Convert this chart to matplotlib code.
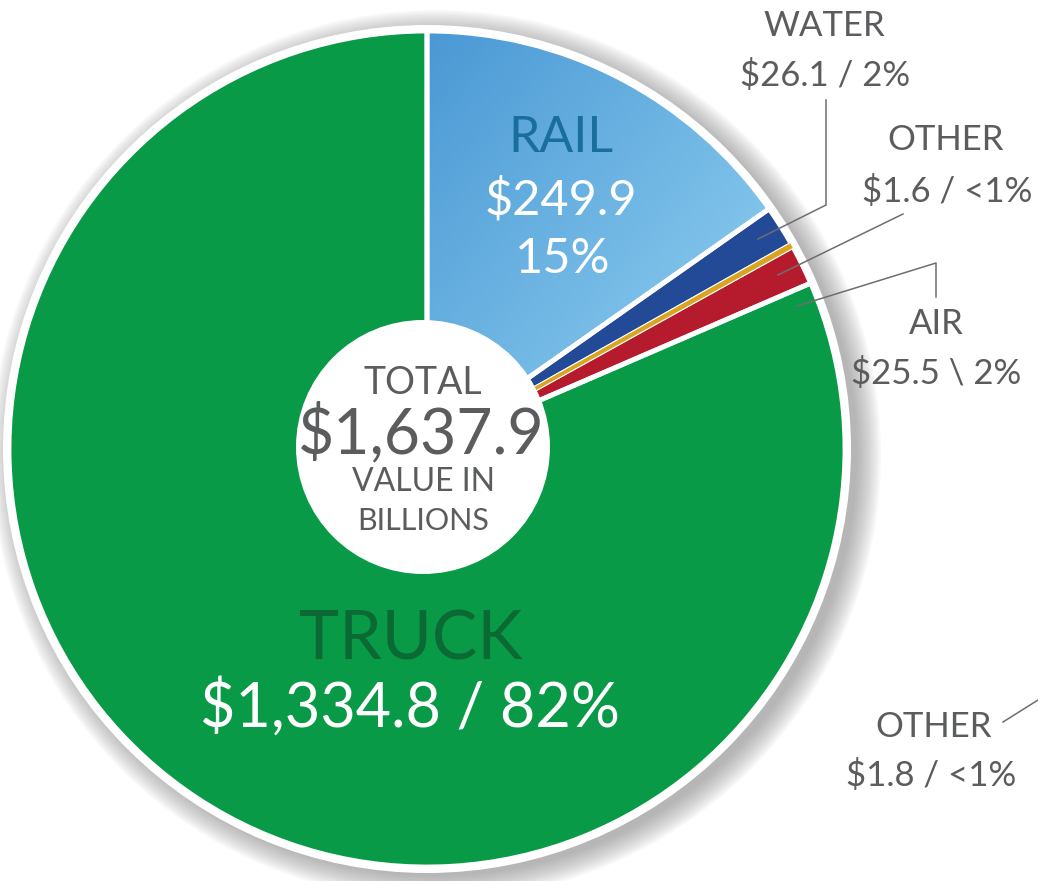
import matplotlib
matplotlib.use('Agg')
import matplotlib.pyplot as plt
import numpy as np
from matplotlib.patches import Circle
from matplotlib.colors import LinearSegmentedColormap

plt.rcParams['font.family'] = ['Lato', 'DejaVu Sans']

# values in billions of dollars, clockwise from 12 o'clock
modes = ['RAIL', 'WATER', 'OTHER', 'AIR', 'TRUCK']
values = [249.9, 26.1, 1.6, 25.5, 1334.8]
value_labels = ['$249.9', '$26.1 / 2%', '$1.6 / <1%', '$25.5 \\ 2%', '$1,334.8 / 82%']
total_label = '$1,637.9'
other_label2 = '$1.8 / <1%'

W, H = 1038, 881
def Y(y):
    return H - y

fig = plt.figure(figsize=(W / 100, H / 100), dpi=100)
ax = fig.add_axes([0, 0, 1, 1])

cx, cy, r = 427, Y(449), 418

# soft shadow + white rim behind the pie
for i in range(16):
    ax.add_patch(Circle((cx + 9, cy - 6), r + 3 + i * 1.6, color='#7a7a7a', alpha=0.045, lw=0, zorder=0))
ax.add_patch(Circle((cx, cy), r + 6, color='white', lw=0, zorder=1))

base_cols = ['#6cb8e6', '#224a96', '#d9a521', '#b51b2c', '#099a47']
wedges, _ = ax.pie(values, colors=base_cols, startangle=90, counterclock=False,
                   center=(cx, cy), radius=r, frame=True,
                   wedgeprops=dict(linewidth=0))
for w in wedges:
    w.set_zorder(2)

# gradient fills clipped to wedges (x weight, y weight downwards)
grads = {
    0: (['#4a98d4', '#96d5f4'], (1, 1)),
    1: (['#17357a', '#2b5fae'], (0, 1)),
    3: (['#a5142a', '#c2202e'], (0, 1)),
    4: (['#0ba64d', '#078a3f'], (1, 0)),
}
inv = ax.transData.inverted()
for idx, (cl, (gx, gy)) in grads.items():
    cmap = LinearSegmentedColormap.from_list('g%d' % idx, cl)
    XX, YY = np.meshgrid(np.linspace(0, 1, 200), np.linspace(0, 1, 200))
    Z = (XX * gx + YY * gy) / (gx + gy)
    bb = wedges[idx].get_path().get_extents(wedges[idx].get_transform())
    (x0, y0), (x1, y1) = inv.transform([[bb.x0, bb.y0], [bb.x1, bb.y1]])
    im = ax.imshow(Z, cmap=cmap, extent=(x0, x1, y0, y1), origin='upper',
                   aspect='auto', zorder=2.5)
    im.set_clip_path(wedges[idx])

# white separators
ax.pie(values, colors=['none'] * len(values), startangle=90, counterclock=False,
       center=(cx, cy), radius=r, frame=True,
       wedgeprops=dict(edgecolor='white', linewidth=3.5, fill=False, zorder=3))
# keep the tiny slice visible
gold, _ = ax.pie(values, colors=['none', 'none', '#d9a521', 'none', 'none'], startangle=90,
                 counterclock=False, center=(cx, cy), radius=r - 2, frame=True,
                 wedgeprops=dict(linewidth=0, zorder=3.5))
gold[2].set_edgecolor('#d9a521')
gold[2].set_linewidth(2.0)

# centre disc
ax.add_patch(Circle((423, Y(447)), 127, color='white', lw=0, zorder=5))

gray = '#5b5c5e'
ax.text(423, Y(383), 'TOTAL', ha='center', va='center', fontsize=27, color=gray, zorder=6)
ax.text(421, Y(433), total_label, ha='center', va='center', fontsize=45, color=gray, zorder=6)
ax.text(423, Y(482), 'VALUE IN', ha='center', va='center', fontsize=23, color=gray, zorder=6)
ax.text(423, Y(521), 'BILLIONS', ha='center', va='center', fontsize=22, color=gray, zorder=6)

# in-slice labels
ax.text(561, Y(138), modes[0], ha='center', va='center', fontsize=36, color='#1a6e9e', zorder=6)
ax.text(561, Y(200), value_labels[0], ha='center', va='center', fontsize=35, color='white', zorder=6)
ax.text(563, Y(259), '15%', ha='center', va='center', fontsize=35, color='white', zorder=6)
ax.text(411, Y(641), modes[4], ha='center', va='center', fontsize=49, color='#0b6a33', zorder=6)
ax.text(410, Y(708), value_labels[4], ha='center', va='center', fontsize=44, color='white', zorder=6)

# outside labels
lab = dict(ha='center', va='center', fontsize=25, color=gray, zorder=6)
ax.text(824, Y(26), modes[1], **lab)
ax.text(825, Y(76), value_labels[1], **lab)
ax.text(946, Y(140), modes[2], **lab)
ax.text(947, Y(192), value_labels[2], **lab)
ax.text(936, Y(324), modes[3], **lab)
ax.text(936, Y(373), value_labels[3], **lab)
ax.text(934, Y(727), 'OTHER', **lab)
ax.text(931, Y(775), other_label2, **lab)

ln = dict(color='#6d6e70', lw=1.1, zorder=7)
ax.plot([826, 826, 758], [Y(100), Y(205), Y(239)], **ln)
ax.plot([903, 778], [Y(214), Y(275)], **ln)
ax.plot([936, 936, 797], [Y(297), Y(263), Y(306)], **ln)
ax.plot([1003, 1038], [Y(722), Y(700)], **ln)

ax.set_xlim(0, W)
ax.set_ylim(0, H)
ax.set_aspect('auto')
ax.set_axis_off()

fig.savefig('out.png', dpi=100)
